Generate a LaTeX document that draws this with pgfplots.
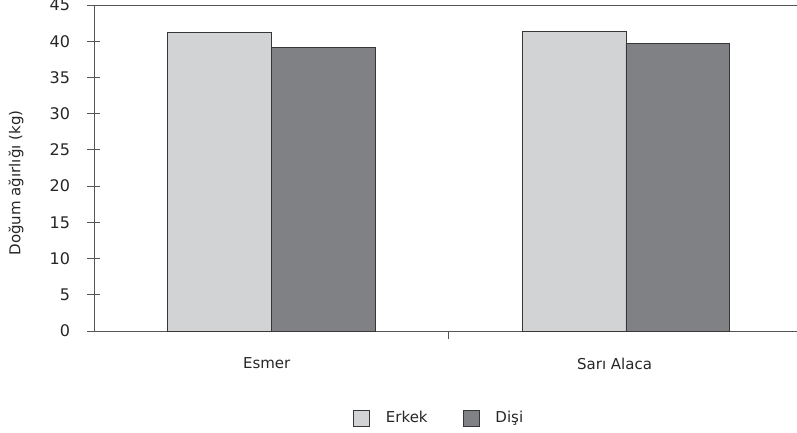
\documentclass[border=0pt]{standalone}
\usepackage{pgfplots}
\pgfplotsset{compat=1.18}
\usepackage{fontspec}
\setmainfont{DejaVu Sans}
\definecolor{erkekc}{RGB}{210,211,213}
\definecolor{disic}{RGB}{128,129,133}
\definecolor{axc}{RGB}{85,85,85}
\definecolor{edgec}{RGB}{55,55,55}
\begin{document}
\begin{tikzpicture}[x=1pt,y=1pt]
\useasboundingbox (-94,-101) rectangle (703,331);
\begin{axis}[
  at={(0,0)}, anchor=south west,
  scale only axis, width=703pt, height=326pt,
  xmin=-0.5, xmax=1.4825, ymin=0, ymax=45,
  axis x line*=box, axis y line*=left,
  axis line style={axc, line width=0.8pt},
  xtick pos=bottom, ytick pos=left,
  xtick={-0.013,0.968}, xticklabels={Esmer, Sarı Alaca},
  x tick style={draw=none},
  extra x ticks={0.5}, extra x tick labels={},
  extra x tick style={tick align=outside, major tick length=8pt, x tick style={draw=axc, line width=0.8pt}},
  ytick={0,5,...,45},
  y tick style={axc, line width=0.8pt},
  tick align=center, major tick length=13pt,
  tick label style={font=\fontsize{15}{17}\selectfont, text=black!85},
  /pgf/number format/assume math mode=true,
  xticklabel style={yshift=-17pt},
  yticklabel style={xshift=-14pt, font=\fontsize{16}{18}\selectfont},
  ylabel={Doğum ağırlığı (kg)},
  ylabel style={font=\fontsize{15}{17}\selectfont, text=black!85, at={(axis description cs:-0.111,0.454)}, anchor=center},
  legend style={at={(0.491,-0.267)}, anchor=center, draw=none, fill=none,
    font=\fontsize{15}{17}\selectfont, text=black!85, legend columns=2,
    /tikz/every even column/.append style={column sep=33pt}},
  legend image code/.code={\draw[#1] (0pt,-8pt) rectangle (16pt,8pt); \path (30pt,0pt);},
]
\addplot[ybar, bar width=0.2924, bar shift=-0.1462, fill=erkekc, draw=edgec, line width=0.8pt] coordinates {(0,41.27) (1,41.3)};
\addplot[ybar, bar width=0.2924, bar shift=0.1462, fill=disic, draw=edgec, line width=0.8pt] coordinates {(0,39.1) (1,39.7)};
\legend{Erkek, Dişi}
\end{axis}
\end{tikzpicture}
\end{document}
